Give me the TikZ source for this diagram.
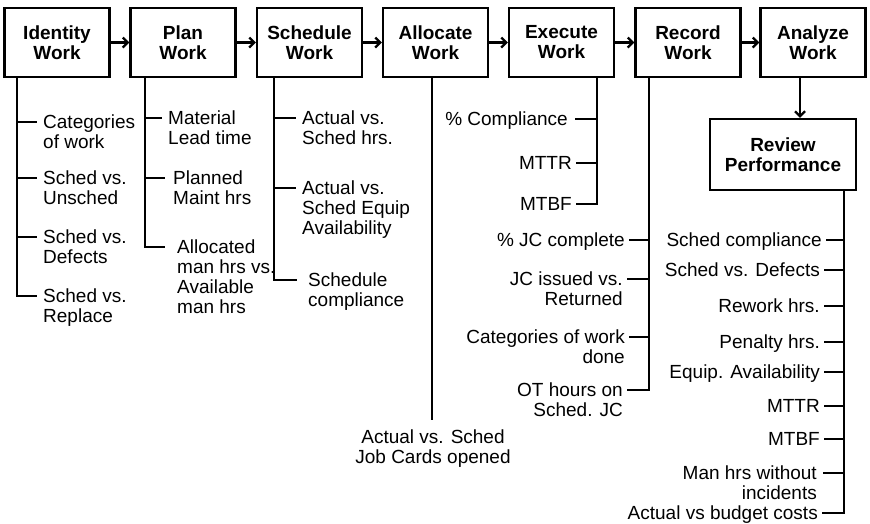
\documentclass[tikz,border=0pt]{standalone}
\usepackage{fontspec}
\setmainfont{Liberation Sans}
\usetikzlibrary{arrows.meta}

\tikzset{
  box/.style={draw, line width=2.4pt, minimum width=105pt, minimum height=69pt,
    align=center, font=\bfseries\fontsize{19}{20}\selectfont},
  lbl/.style={inner sep=0pt, font=\fontsize{19}{20}\selectfont},
  lbll/.style={lbl, align=left, anchor=north west, yshift=7pt},
  lblr/.style={lbl, align=right, anchor=north east, yshift=7pt},
  ln/.style={line width=2.2pt},
  arr/.style={ln, -{Straight Barb[length=5pt,width=10pt]}},
  tickl/.style={ln, shorten >=6pt},
  tickr/.style={ln, shorten <=4pt}
}

\begin{document}
\begin{tikzpicture}[x=1pt, y=-1pt]
\useasboundingbox (0,0) rectangle (870,523);

% process steps
\node[box] (id) at (57,42.5) {Identity\\Work};
\node[box] (plan) at (183,42.5) {Plan\\Work};
\node[box] (sch) at (309.5,42.5) {Schedule\\Work};
\node[box] (alc) at (435.5,42.5) {Allocate\\Work};
\node[box] (exe) at (561.5,42.5) {Execute\\Work};
\node[box] (rec) at (688,42.5) {Record\\Work};
\node[box] (ana) at (813,42.5) {Analyze\\Work};
\node[box, minimum width=146pt, minimum height=71pt] (rev) at (783,154.5) {Review\\Performance};

\draw[arr] (id) -- (plan);
\draw[arr] (plan) -- (sch);
\draw[arr] (sch) -- (alc);
\draw[arr] (alc) -- (exe);
\draw[arr] (exe) -- (rec);
\draw[arr] (rec) -- (ana);
\draw[arr] ([xshift=-13pt]ana.south) -- ([xshift=-13pt]ana.south |- rev.north);

% Identity Work
\coordinate (idT) at ([xshift=14pt]id.south west);
\node[lbll] (idA) at (43,122) {Categories\\of work};
\node[lbll] (idB) at (43,178) {Sched vs.\\Unsched};
\node[lbll] (idC) at (43,237) {Sched vs.\\Defects};
\node[lbll] (idD) at (43,296) {Sched vs.\\Replace};
\draw[tickl] (idT) -- ([yshift=-7pt]idD.north west -| idT) -- ([yshift=-7pt]idD.north west);
\draw[tickl] ([yshift=-7pt]idA.north west -| idT) -- ([yshift=-7pt]idA.north west);
\draw[tickl] ([yshift=-7pt]idB.north west -| idT) -- ([yshift=-7pt]idB.north west);
\draw[tickl] ([yshift=-7pt]idC.north west -| idT) -- ([yshift=-7pt]idC.north west);

% Plan Work
\coordinate (plT) at ([xshift=16pt]plan.south west);
\node[lbll] (plA) at (168,118) {Material\\Lead time};
\node[lbll] (plB) at (173,178) {Planned\\Maint hrs};
\node[lbll] (plC) at (177,247) {Allocated\\man hrs vs.\\Available\\man hrs};
\draw[ln] (plT) -- ([yshift=-7pt]plC.north west -| plT) -- ([xshift=-12pt,yshift=-7pt]plC.north west);
\draw[tickl] ([yshift=-7pt]plA.north west -| plT) -- ([yshift=-7pt]plA.north west);
\draw[ln] ([yshift=-7pt]plB.north west -| plT) -- ([xshift=-8pt,yshift=-7pt]plB.north west);

% Schedule Work
\coordinate (scT) at ([xshift=18pt]sch.south west);
\node[lbll] (scA) at (302,118) {Actual vs.\\Sched hrs.};
\node[lbll] (scB) at (302,188) {Actual vs.\\Sched Equip\\Availability};
\node[lbll] (scC) at (308,280) {Schedule\\compliance};
\draw[ln] (scT) -- ([yshift=-7pt]scC.north west -| scT) -- ([xshift=-11pt,yshift=-7pt]scC.north west);
\draw[tickl] ([yshift=-7pt]scA.north west -| scT) -- ([yshift=-7pt]scA.north west);
\draw[tickl] ([yshift=-7pt]scB.north west -| scT) -- ([yshift=-7pt]scB.north west);

% Allocate Work
\coordinate (alT) at ([xshift=-3.5pt]alc.south);
\node[lbl, align=center, anchor=north] (alA) at (433,430) {Actual vs. Sched\\Job Cards opened};
\draw[ln] (alT) -- ([yshift=10pt]alT |- alA.north);

% Execute Work
\coordinate (exT) at ([xshift=-18pt]exe.south east);
\node[lblr] (exA) at (568,119) {\% Compliance};
\node[lblr] (exB) at (572,163) {MTTR};
\node[lblr] (exC) at (572,204) {MTBF};
\draw[tickr] ([yshift=-7pt]exC.north east) -- ([yshift=-7pt]exC.north east -| exT) -- (exT);
\draw[ln] ([xshift=7pt,yshift=-7pt]exA.north east) -- ([yshift=-7pt]exA.north east -| exT);
\draw[tickr] ([yshift=-7pt]exB.north east) -- ([yshift=-7pt]exB.north east -| exT);

% Record Work
\coordinate (reT) at ([xshift=15pt]rec.south west);
\node[lblr] (reA) at (625,240) {\% JC complete};
\node[lblr] (reB) at (623,279) {JC issued vs.\\Returned};
\node[lblr] (reC) at (625,337) {Categories of work\\done};
\node[lblr] (reD) at (623,390) {OT hours on\\Sched. JC};
\draw[tickr] ([yshift=-7pt]reD.north east) -- ([yshift=-7pt]reD.north east -| reT) -- (reT);
\draw[tickr] ([yshift=-7pt]reA.north east) -- ([yshift=-7pt]reA.north east -| reT);
\draw[tickr] ([yshift=-7pt]reB.north east) -- ([yshift=-7pt]reB.north east -| reT);
\draw[tickr] ([yshift=-7pt]reC.north east) -- ([yshift=-7pt]reC.north east -| reT);

% Review Performance
\coordinate (rvT) at ([xshift=-13pt]rev.south east);
\node[lblr] (rvA) at (822,240) {Sched compliance};
\node[lblr] (rvB) at (820,270) {Sched vs. Defects};
\node[lblr] (rvC) at (820,306) {Rework hrs.};
\node[lblr] (rvD) at (820,342) {Penalty hrs.};
\node[lblr] (rvE) at (820,372) {Equip. Availability};
\node[lblr] (rvF) at (820,406) {MTTR};
\node[lblr] (rvG) at (820,439) {MTBF};
\node[lblr] (rvH) at (817,473) {Man hrs without\\incidents};
\node[lblr] (rvI) at (818,513) {Actual vs budget costs};
\draw[tickr] ([yshift=-7pt]rvI.north east) -- ([yshift=-7pt]rvI.north east -| rvT) -- (rvT);
\draw[tickr] ([yshift=-7pt]rvA.north east) -- ([yshift=-7pt]rvA.north east -| rvT);
\draw[tickr] ([yshift=-7pt]rvB.north east) -- ([yshift=-7pt]rvB.north east -| rvT);
\draw[tickr] ([yshift=-7pt]rvC.north east) -- ([yshift=-7pt]rvC.north east -| rvT);
\draw[tickr] ([yshift=-7pt]rvD.north east) -- ([yshift=-7pt]rvD.north east -| rvT);
\draw[tickr] ([yshift=-7pt]rvE.north east) -- ([yshift=-7pt]rvE.north east -| rvT);
\draw[tickr] ([yshift=-7pt]rvF.north east) -- ([yshift=-7pt]rvF.north east -| rvT);
\draw[tickr] ([yshift=-7pt]rvG.north east) -- ([yshift=-7pt]rvG.north east -| rvT);
\draw[ln] ([xshift=6pt,yshift=-7pt]rvH.north east) -- ([yshift=-7pt]rvH.north east -| rvT);
\end{tikzpicture}
\end{document}
